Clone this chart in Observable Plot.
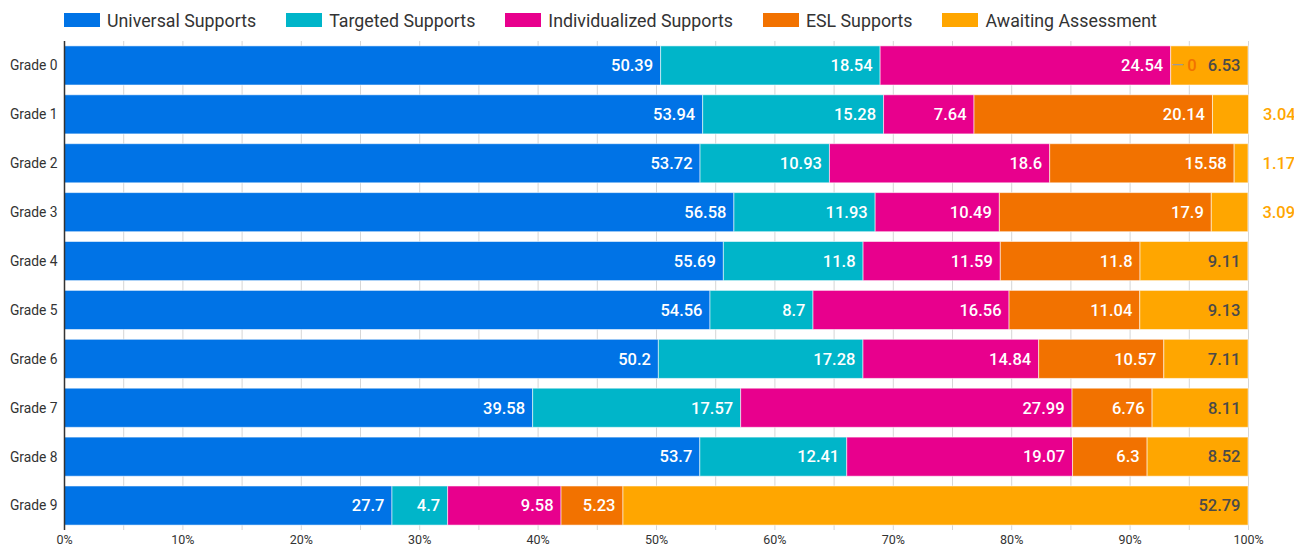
<!DOCTYPE html>
<html>
<head>
<meta charset="utf-8">
<script src="https://cdn.jsdelivr.net/npm/d3@7"></script>
<script src="https://cdn.jsdelivr.net/npm/@observablehq/plot@0.6"></script>
<style>
  html, body { margin: 0; padding: 0; background: #fff; overflow: hidden; }
  body { font-family: Roboto, "Noto Sans", sans-serif; width: 1294px; height: 548px; }
  #legend { height: 38px; display: flex; align-items: center; padding-left: 64px; box-sizing: border-box; padding-top: 2px; }
  .item { display: flex; align-items: center; margin-right: 30px; font-size: 17.8px; color: #333; }
  .sw { width: 36px; height: 14px; margin-right: 7px; }
  #chart svg { display: block; overflow: visible; }
</style>
</head>
<body>
<div id="legend"></div>
<div id="chart"></div>
<script>
const grades = ["Grade 0","Grade 1","Grade 2","Grade 3","Grade 4","Grade 5","Grade 6","Grade 7","Grade 8","Grade 9"];
const seriesNames = ["Universal Supports","Targeted Supports","Individualized Supports","ESL Supports","Awaiting Assessment"];
const seriesColors = ["#0073E6","#00B5C9","#E8008D","#F27200","#FFA600"];
const universal      = [50.39, 53.94, 53.72, 56.58, 55.69, 54.56, 50.2, 39.58, 53.7, 27.7];
const targeted       = [18.54, 15.28, 10.93, 11.93, 11.8, 8.7, 17.28, 17.57, 12.41, 4.7];
const individualized = [24.54, 7.64, 18.6, 10.49, 11.59, 16.56, 14.84, 27.99, 19.07, 9.58];
const esl            = [0, 20.14, 15.58, 17.9, 11.8, 11.04, 10.57, 6.76, 6.3, 5.23];
const awaiting       = [6.53, 3.04, 1.17, 3.09, 9.11, 9.13, 7.11, 8.11, 8.52, 52.79];
const xTicks = [0,10,20,30,40,50,60,70,80,90,100];
const xGrid = [0,5,10,15,20,25,30,35,40,45,50,55,60,65,70,75,80,85,90,95,100];

const seriesValues = [universal, targeted, individualized, esl, awaiting];
const data = [];
grades.forEach((g, i) => {
  let start = 0;
  seriesNames.forEach((s, j) => {
    const v = seriesValues[j][i];
    data.push({grade: g, series: s, value: v, x1: start, x2: start + v, si: j});
    start += v;
  });
});

const legend = document.getElementById("legend");
seriesNames.forEach((s, j) => {
  const it = document.createElement("div");
  it.className = "item";
  it.innerHTML = `<div class="sw" style="background:${seriesColors[j]}"></div><span>${s}</span>`;
  legend.appendChild(it);
});

const fmt = v => String(v);
const inside = data.filter(d => d.value >= 3.5);
const outsideSmall = data.filter(d => d.value > 0 && d.value < 3.5);
const zeros = data.filter(d => d.value === 0);

const chart = Plot.plot({
  width: 1294,
  height: 510,
  marginLeft: 64,
  marginRight: 46,
  marginTop: 3,
  marginBottom: 18,
  style: {fontFamily: "Roboto, sans-serif", background: "transparent", overflow: "visible"},
  x: {domain: [0, 100], label: null},
  y: {domain: grades, paddingInner: 0.2, paddingOuter: 0.1, round: false, label: null},
  color: {domain: seriesNames, range: seriesColors},
  marks: [
    Plot.gridX(xGrid, {stroke: "#d6d6d6", strokeOpacity: 1, strokeWidth: 1}),
    Plot.barX(data, {y: "grade", x1: "x1", x2: "x2", fill: "series", stroke: "#ffffff", strokeOpacity: 0.55, strokeWidth: 1}),
    Plot.ruleX([0], {stroke: "#333", strokeWidth: 1.5}),
    Plot.axisX({ticks: xTicks, tickFormat: d => d + "%", tickSize: 0, tickPadding: 5, fontSize: 12.5, fill: "#333", label: null}),
    Plot.axisY({tickSize: 0, tickPadding: 7, fontSize: 13.8, fill: "#333", label: null}),
    Plot.text(inside, {
      y: "grade", x: "x2", text: d => fmt(d.value), textAnchor: "end", dx: -8,
      fill: d => d.si === 4 ? "#4a4a4a" : "#ffffff",
      fontSize: 16.5, fontWeight: 500
    }),
    Plot.text(outsideSmall, {
      y: "grade", x: "x2", text: d => fmt(d.value), textAnchor: "start", dx: 14,
      fill: d => seriesColors[d.si], fontSize: 16.5, fontWeight: 500
    }),
    Plot.text(zeros, {
      y: "grade", x: "x2", text: () => "—", textAnchor: "start", dx: 0,
      fill: "#999", fontSize: 16.5
    }),
    Plot.text(zeros, {
      y: "grade", x: "x2", text: d => fmt(d.value), textAnchor: "start", dx: 16,
      fill: d => seriesColors[d.si], fontSize: 16.5, fontWeight: 500
    })
  ]
});
document.getElementById("chart").appendChild(chart);
</script>
</body>
</html>
